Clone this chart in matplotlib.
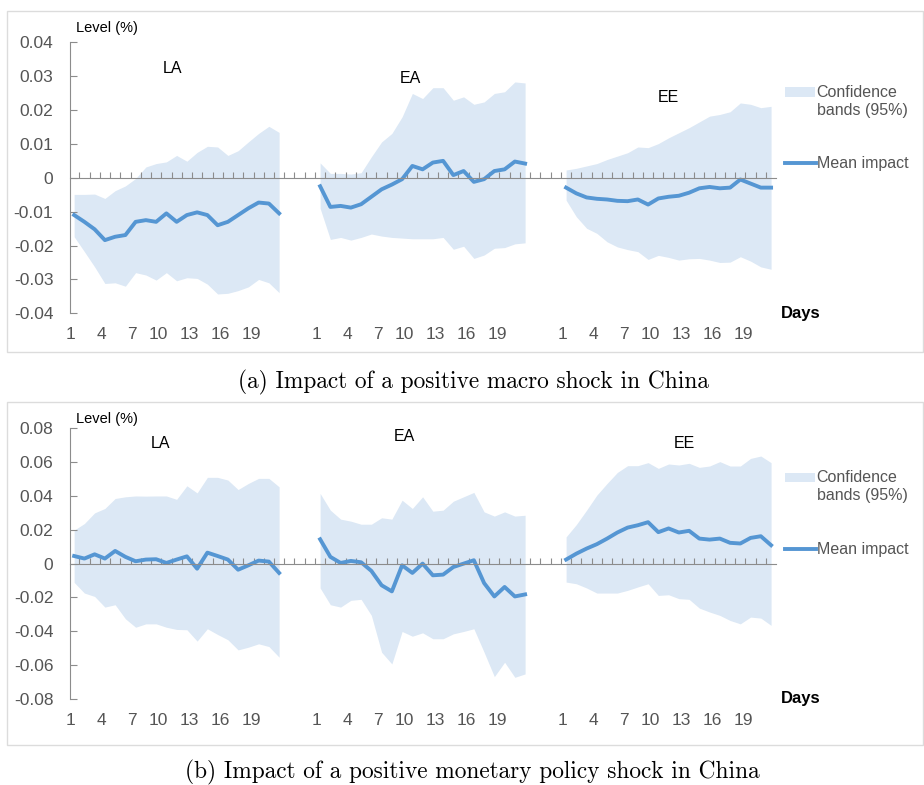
import matplotlib
matplotlib.use('Agg')
import matplotlib.pyplot as plt
import numpy as np
from matplotlib.patches import Rectangle
from matplotlib.lines import Line2D

plt.rcParams['font.family'] = ['Liberation Sans', 'DejaVu Sans']

regions = ['LA', 'EA', 'EE']
days = list(range(1, 22))
day_ticks = [1, 4, 7, 10, 13, 16, 19]

# (a) macro shock: mean impact and 95% bands, one list per region
la_a_mean = [-0.0110, -0.0130, -0.0152, -0.0184, -0.0174, -0.0169, -0.0130, -0.0125, -0.0130, -0.0105, -0.0130,
             -0.0110, -0.0102, -0.0110, -0.0140, -0.0130, -0.0110, -0.0090, -0.0073, -0.0076, -0.0105]
la_a_up = [-0.0049, -0.0049, -0.0048, -0.0061, -0.0038, -0.0024, -0.0002, 0.0032, 0.0042, 0.0047, 0.0066,
           0.0049, 0.0075, 0.0093, 0.0091, 0.0066, 0.0080, 0.0106, 0.0131, 0.0152, 0.0134]
la_a_lo = [-0.0174, -0.0218, -0.0263, -0.0312, -0.0310, -0.0320, -0.0280, -0.0287, -0.0302, -0.0280, -0.0304,
           -0.0295, -0.0297, -0.0314, -0.0343, -0.0341, -0.0333, -0.0322, -0.0300, -0.0310, -0.0339]
ea_a_mean = [-0.0025, -0.0086, -0.0083, -0.0088, -0.0078, -0.0056, -0.0034, -0.0020, -0.0004, 0.0035, 0.0025,
             0.0045, 0.0050, 0.0008, 0.0020, -0.0012, -0.0004, 0.0020, 0.0025, 0.0048, 0.0042]
ea_a_up = [0.0044, 0.0013, 0.0013, 0.0011, 0.0015, 0.0062, 0.0106, 0.0131, 0.0180, 0.0249, 0.0234,
           0.0266, 0.0266, 0.0229, 0.0239, 0.0217, 0.0224, 0.0249, 0.0254, 0.0283, 0.0280]
ea_a_lo = [-0.0090, -0.0182, -0.0176, -0.0184, -0.0176, -0.0166, -0.0172, -0.0176, -0.0178, -0.0180, -0.0180,
           -0.0180, -0.0176, -0.0211, -0.0202, -0.0238, -0.0228, -0.0208, -0.0206, -0.0195, -0.0192]
ee_a_mean = [-0.0029, -0.0046, -0.0058, -0.0062, -0.0064, -0.0068, -0.0069, -0.0064, -0.0079, -0.0061, -0.0056,
             -0.0053, -0.0044, -0.0031, -0.0027, -0.0031, -0.0029, -0.0005, -0.0017, -0.0029, -0.0029]
ee_a_up = [0.0023, 0.0028, 0.0035, 0.0042, 0.0054, 0.0064, 0.0074, 0.0091, 0.0089, 0.0101, 0.0118,
           0.0133, 0.0148, 0.0165, 0.0182, 0.0187, 0.0195, 0.0221, 0.0217, 0.0207, 0.0211]
ee_a_lo = [-0.0066, -0.0115, -0.0149, -0.0164, -0.0189, -0.0204, -0.0212, -0.0218, -0.0241, -0.0229, -0.0235,
           -0.0243, -0.0239, -0.0238, -0.0243, -0.0250, -0.0249, -0.0233, -0.0246, -0.0263, -0.0270]

# (b) monetary policy shock
la_b_mean = [0.0045, 0.0030, 0.0055, 0.0030, 0.0075, 0.0040, 0.0014, 0.0024, 0.0026, 0.0004, 0.0024,
             0.0043, -0.0030, 0.0065, 0.0045, 0.0024, -0.0036, -0.0010, 0.0018, 0.0012, -0.0055]
la_b_up = [0.0198, 0.0237, 0.0300, 0.0326, 0.0385, 0.0395, 0.0400, 0.0399, 0.0400, 0.0400, 0.0380,
           0.0460, 0.0418, 0.0510, 0.0510, 0.0494, 0.0438, 0.0474, 0.0504, 0.0504, 0.0454]
la_b_lo = [-0.0111, -0.0174, -0.0194, -0.0257, -0.0243, -0.0326, -0.0376, -0.0356, -0.0356, -0.0376, -0.0389,
           -0.0391, -0.0458, -0.0385, -0.0419, -0.0450, -0.0510, -0.0494, -0.0474, -0.0490, -0.0553]
ea_b_mean = [0.0144, 0.0040, 0.0004, 0.0016, 0.0008, -0.0043, -0.0128, -0.0164, -0.0010, -0.0055, 0.0000,
             -0.0069, -0.0065, -0.0020, 0.0000, 0.0020, -0.0115, -0.0194, -0.0138, -0.0194, -0.0182]
ea_b_up = [0.0415, 0.0316, 0.0263, 0.0251, 0.0233, 0.0233, 0.0271, 0.0263, 0.0375, 0.0326, 0.0395,
           0.0310, 0.0316, 0.0369, 0.0395, 0.0421, 0.0306, 0.0281, 0.0306, 0.0281, 0.0286]
ea_b_lo = [-0.0144, -0.0243, -0.0257, -0.0217, -0.0211, -0.0306, -0.0524, -0.0593, -0.0401, -0.0429, -0.0409,
           -0.0444, -0.0444, -0.0415, -0.0401, -0.0385, -0.0524, -0.0668, -0.0583, -0.0672, -0.0652]
ee_b_mean = [0.0024, 0.0059, 0.0089, 0.0115, 0.0148, 0.0184, 0.0213, 0.0227, 0.0245, 0.0186, 0.0208,
             0.0184, 0.0194, 0.0148, 0.0142, 0.0148, 0.0123, 0.0119, 0.0152, 0.0162, 0.0109]
ee_b_up = [0.0158, 0.0231, 0.0316, 0.0405, 0.0474, 0.0539, 0.0579, 0.0579, 0.0597, 0.0563, 0.0589,
           0.0583, 0.0593, 0.0569, 0.0577, 0.0603, 0.0577, 0.0577, 0.0622, 0.0636, 0.0597]
ee_b_lo = [-0.0109, -0.0119, -0.0144, -0.0174, -0.0174, -0.0174, -0.0158, -0.0138, -0.0119, -0.0188, -0.0184,
           -0.0207, -0.0211, -0.0263, -0.0286, -0.0306, -0.0336, -0.0356, -0.0316, -0.0322, -0.0365]

yticks_a = [-0.04, -0.03, -0.02, -0.01, 0, 0.01, 0.02, 0.03, 0.04]
yticks_b = [-0.08, -0.06, -0.04, -0.02, 0, 0.02, 0.04, 0.06, 0.08]

captions = ['(a) Impact of a positive macro shock in China',
            '(b) Impact of a positive monetary policy shock in China']

BAND = '#dce8f5'
LINE = '#5596d3'
AXIS = '#8c8c8c'
TXT = '#555555'
GAP = 24  # day slots per region block


def fmt(v):
    return '0' if v == 0 else '%.2f' % v


def draw_panel(ax, series, yticks, name_pos, level_y):
    for g, (name, (mean, up, lo)) in enumerate(zip(regions, series)):
        x = np.array(days) + GAP * g
        ax.fill_between(x, lo, up, color=BAND, lw=0)
        ax.plot(x, mean, color=LINE, lw=2.8)
        ax.text(name_pos[g][0], name_pos[g][1], name, ha='center', va='center', fontsize=11.5)

    ax.set_xlim(0.6, 69.45)
    ax.set_ylim(yticks[0], yticks[-1])
    for s in ['top', 'right']:
        ax.spines[s].set_visible(False)
    ax.spines['bottom'].set_position(('data', 0))
    ax.spines['bottom'].set_color(AXIS)
    ax.spines['left'].set_color(AXIS)
    ax.set_xticks([])
    ax.set_xticks(np.arange(1.5, 69.5, 1), minor=True)
    ax.tick_params(axis='x', which='minor', direction='in', length=4.5, color=AXIS, width=0.8)
    ax.set_yticks(yticks, [fmt(v) for v in yticks])
    ax.tick_params(axis='y', direction='in', length=5, color=AXIS, pad=12,
                   labelsize=12.5, labelcolor=TXT)

    # day labels sit a little left of their points, as in the source
    sec = ax.secondary_xaxis('bottom')
    pos = [GAP * g + d - (0.38 if d < 10 else 0.75) for g in range(3) for d in day_ticks]
    sec.set_xticks(pos, [str(d) for g in range(3) for d in day_ticks])
    sec.tick_params(length=0, pad=10, labelsize=12.5, labelcolor=TXT)
    sec.spines['bottom'].set_visible(False)

    ax.text(0.009, level_y, 'Level (%)', transform=ax.transAxes, va='center', fontsize=10.5)
    ax.text(1.007, 0.0, 'Days', transform=ax.transAxes, va='center', fontsize=12, fontweight='bold')

    # legend, laid out like the source (patch beside first line of text)
    ax.add_patch(Rectangle((1.0135, 0.800), 0.0425, 0.035, transform=ax.transAxes,
                           color=BAND, lw=0, clip_on=False))
    ax.text(1.058, 0.8166, 'Confidence', transform=ax.transAxes, va='center', fontsize=11.5, color=TXT)
    ax.text(1.058, 0.750, 'bands (95%)', transform=ax.transAxes, va='center', fontsize=11.5, color=TXT)
    ax.add_line(Line2D([1.0135, 1.057], [0.5535, 0.5535], transform=ax.transAxes,
                       color=LINE, lw=2.8, clip_on=False))
    ax.text(1.058, 0.5535, 'Mean impact', transform=ax.transAxes, va='center', fontsize=11.5, color=TXT)


fig = plt.figure(figsize=(9.24, 7.85), dpi=100)

ax_a = fig.add_axes([0.0758, 0.6009, 0.7637, 0.3452])
draw_panel(ax_a,
           [(la_a_mean, la_a_up, la_a_lo), (ea_a_mean, ea_a_up, ea_a_lo), (ee_a_mean, ee_a_up, ee_a_lo)],
           yticks_a, [(10.56, 0.0324), (33.8, 0.0294), (58.95, 0.0238)], 1.052)

ax_b = fig.add_axes([0.0758, 0.1096, 0.7637, 0.3448])
draw_panel(ax_b,
           [(la_b_mean, la_b_up, la_b_lo), (ea_b_mean, ea_b_up, ea_b_lo), (ee_b_mean, ee_b_up, ee_b_lo)],
           yticks_b, [(9.4, 0.0713), (33.2, 0.0754), (60.5, 0.0713)], 1.034)

# light frames round each panel
for top, bottom in [(11, 352), (402, 745)]:
    fig.add_artist(Rectangle((7 / 924, 1 - bottom / 785), 916 / 924, (bottom - top) / 785,
                             transform=fig.transFigure, fill=False, ec='#dcdcdc', lw=1))

fig.text(0.512, 1 - 382 / 785, captions[0], ha='center', va='center', family='cmr10', fontsize=16.8)
fig.text(0.511, 1 - 772 / 785, captions[1], ha='center', va='center', family='cmr10', fontsize=16.8)

fig.savefig('out.png', dpi=100)
